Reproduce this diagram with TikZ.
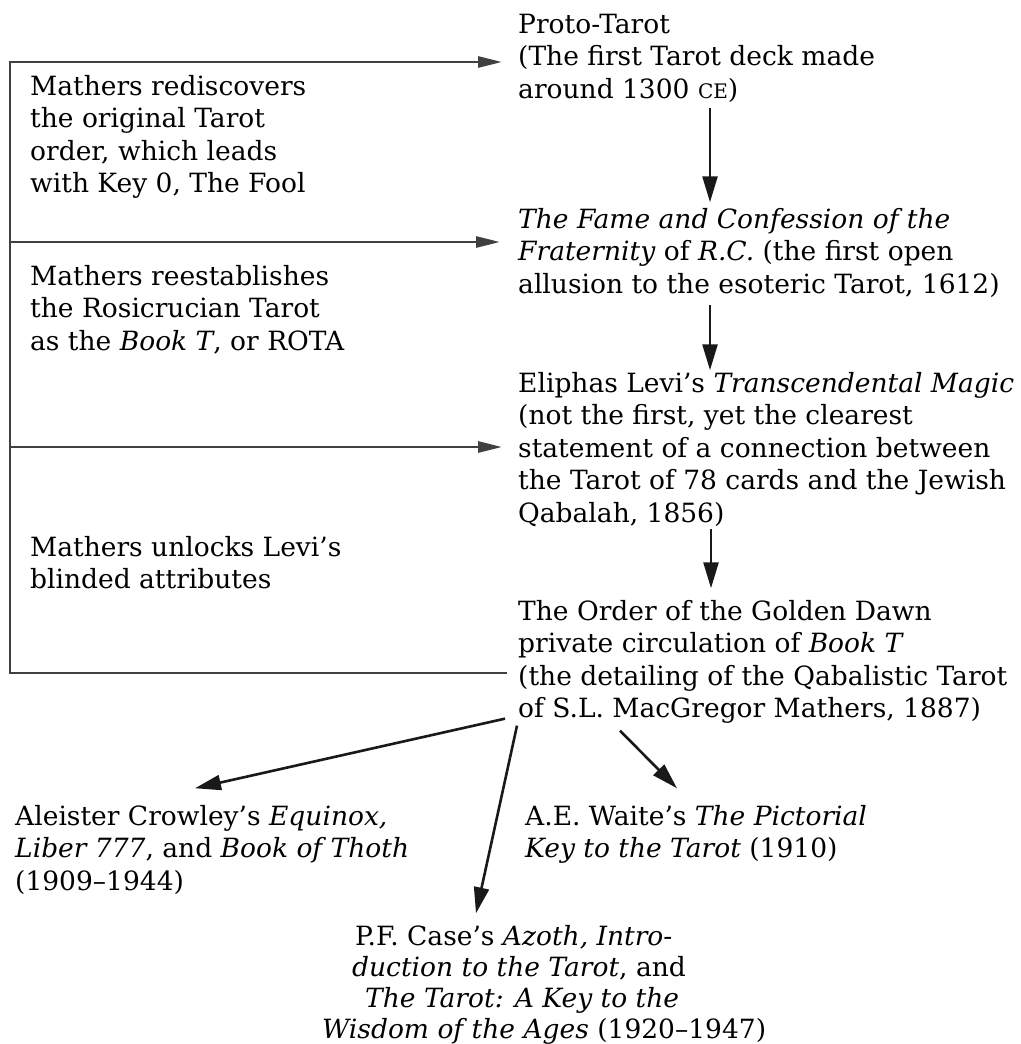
\documentclass[tikz,border=0pt]{standalone}
\usepackage{fontspec}
\setmainfont{DejaVu Serif}
\usetikzlibrary{arrows.meta}
\newcommand{\sce}{{\fontsize{20}{20}\selectfont CE}}
\begin{document}
\begin{tikzpicture}[x=1pt,y=-1pt,
  txt/.style={anchor=north west, inner sep=0pt, align=left,
    font=\fontsize{26.5}{32.5}\selectfont},
  bottomtxt/.style={anchor=north west, inner sep=0pt, align=left,
    font=\fontsize{26.5}{31}\selectfont},
  bracket/.style={line width=2.8pt, draw=black!75},
  link/.style={line width=2.6pt, draw=black!90,
    -{Triangle[length=26pt,width=15pt]}},
  smalllink/.style={line width=2.8pt, draw=black!75,
    -{Triangle[length=24pt,width=11pt]}}]
\useasboundingbox (0,0) rectangle (1020,1044);
\fill[white] (0,0) rectangle (1020,1044);

% right-hand chain
\node[txt] (proto) at (518,10.25)
  {\strut Proto-Tarot\\(The first Tarot deck made\\around 1300 \sce)\strut};
\node[txt] (fame) at (518,205.25)
  {\strut\textit{The Fame and Confession of the}\\
   \textit{Fraternity} of \textit{R.C.} (the first open\\
   allusion to the esoteric Tarot, 1612)\strut};
\node[txt] (levi) at (518,369.25)
  {\strut Eliphas Levi's \textit{Transcendental Magic}\\
   (not the first, yet the clearest\\
   statement of a connection between\\
   the Tarot of 78 cards and the Jewish\\
   Qabalah, 1856)\strut};
\node[txt] (order) at (518,597.25)
  {\strut The Order of the Golden Dawn\\
   private circulation of \textit{Book T}\\
   (the detailing of the Qabalistic Tarot\\
   of S.L. MacGregor Mathers, 1887)\strut};

% left-hand notes
\node[txt] (rediscover) at (30,72.25)
  {\strut Mathers rediscovers\\the original Tarot\\order, which leads\\with Key 0, The Fool};
\node[txt] (reestablish) at (30,262.25)
  {\strut Mathers reestablishes\\the Rosicrucian Tarot\\as the \textit{Book T}, or ROTA};
\node[txt] (unlock) at (30,533.25)
  {\strut Mathers unlocks Levi's\\blinded attributes};

% later works
\node[txt] (crowley) at (15,802.25)
  {\strut Aleister Crowley's \textit{Equinox,}\\
   \textit{Liber 777}, and \textit{Book of Thoth}\\
   (1909--1944)};
\node[txt] (waite) at (525,802.25)
  {\strut A.E. Waite's \textit{The Pictorial}\\
   \textit{Key to the Tarot} (1910)};
\node[bottomtxt] (case) at (322,923.3)
  {\strut\hspace*{33pt}P.F. Case's \textit{Azoth, Intro-}\\
   \hspace*{30pt}\textit{duction to the Tarot}, and\\
   \hspace*{43pt}\textit{The Tarot: A Key to the}\\
   \textit{Wisdom of the Ages} (1920--1947)};

% bracket on the left
\coordinate (b1) at (10,62);
\coordinate (b2) at (10,242);
\coordinate (b3) at (10,447);
\coordinate (b4) at (10,673);
\draw[bracket, line cap=rect] (b1) -- (b4);
\draw[smalllink, shorten >=16pt] (b1) -- (proto.west |- b1);
\draw[smalllink, shorten >=18pt] (b2) -- (fame.west |- b2);
\draw[smalllink, shorten >=16pt] (b3) -- (levi.west |- b3);
\draw[bracket, shorten >=11pt] (b4) -- (order.west |- b4);

% chain arrows
\draw[link, shorten >=3pt] ([xshift=192pt]proto.south west) -- ([xshift=192pt]fame.north west);
\draw[link, shorten <=2pt] ([xshift=192pt]fame.south west) -- ([xshift=192pt,yshift=-1pt]levi.north west);
\draw[link, shorten >=9pt, shorten <=-3pt] ([xshift=193pt]levi.south west) -- ([xshift=193pt]order.north west);

% arrows out of the Golden Dawn
\draw[link] ([xshift=-13pt,yshift=9pt]order.south west) -- ([shift={(180pt,14pt)}]crowley.north west);
\draw[link] ([xshift=-1pt,yshift=2pt]order.south west) -- ([shift={(154pt,10pt)}]case.north west);
\draw[link] ([xshift=102pt,yshift=-3pt]order.south west) -- ([shift={(152pt,14pt)}]waite.north west);
\end{tikzpicture}
\end{document}
